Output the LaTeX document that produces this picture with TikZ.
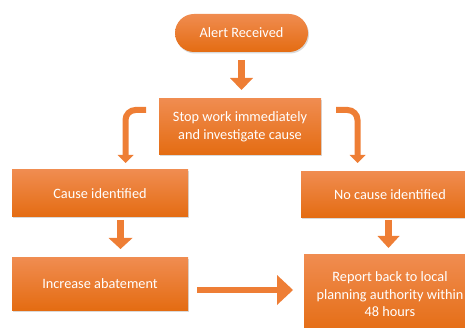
\documentclass[tikz,border=0pt]{standalone}
\usepackage{fontspec}
\setmainfont{Carlito}
\usetikzlibrary{shadows}
\definecolor{otop}{HTML}{F08C50}
\definecolor{obot}{HTML}{E46C12}
\definecolor{oarr}{HTML}{EE7E35}
\tikzset{
  box/.style={draw=none, top color=otop, bottom color=obot, text=white, align=center,
    font=\fontsize{14.3}{18}\selectfont, inner sep=0pt,
    drop shadow={shadow xshift=1pt, shadow yshift=-1.5pt, opacity=0.25, fill=black!60}},
  pill/.style={box, rounded corners=19pt},
  shaft/.style={draw=oarr, line width=7pt},
  bshaft/.style={draw=oarr, line width=6pt, rounded corners=10pt},
  head/.style={fill=oarr, draw=none}
}
\begin{document}
\begin{tikzpicture}[x=1pt,y=-1pt]
\useasboundingbox (0,0) rectangle (465,328);
\clip (0,0) rectangle (465,328);
% nodes
\node[pill, minimum width=133pt, minimum height=38pt] (alert) at (241.5,33) {Alert Received};
\node[box, minimum width=162pt, minimum height=56pt] (stop) at (240,127) {Stop work immediately\\and investigate cause};
\node[box, minimum width=176pt, minimum height=47pt] (cause) at (100,193.5) {Cause identified};
\node[box, minimum width=178pt, minimum height=46pt] (nocause) at (390,194.5) {No cause identified};
\node[box, minimum width=176pt, minimum height=52pt] (incr) at (100,284) {Increase abatement};
\node[box, minimum width=178pt, minimum height=80pt] (report) at (393,295) {};
\node[text=white, align=center, font=\fontsize{14.3}{17.5}\selectfont, inner sep=0pt] (reporttxt) at (390,294.5) {Report back to local\\planning authority within\\48 hours};
% arrow end points
\coordinate (a1s) at (241.5,60);  \coordinate (a1e) at (241.5,79);
\coordinate (a2s) at (120.5,220); \coordinate (a2e) at (120.5,239);
\coordinate (a3s) at (388.5,220); \coordinate (a3e) at (388.5,237);
\coordinate (a4s) at (197,290);   \coordinate (a4e) at (278,290);
\coordinate (b1s) at (146,110);   \coordinate (b1c) at (125.5,110); \coordinate (b1e) at (125.5,156);
\coordinate (b2s) at (336,110);   \coordinate (b2c) at (357.5,110); \coordinate (b2e) at (357.5,156);
% straight arrows
\draw[shaft] (a1s) -- (a1e);
\path[head] (230,78) -- (253,78) -- (241.5,90) -- cycle;
\draw[shaft] (a2s) -- (a2e);
\path[head] (108.5,238) -- (132.5,238) -- (120.5,249) -- cycle;
\draw[shaft] (a3s) -- (a3e);
\path[head] (377.5,236) -- (399.5,236) -- (388.5,248) -- cycle;
\draw[draw=oarr, line width=6.5pt] (a4s) -- (a4e);
\path[head] (277,275) -- (293,290) -- (277,305) -- cycle;
% bent arrows
\draw[bshaft] (b1s) -- (b1c) -- (b1e);
\path[head] (117.5,155) -- (133.5,155) -- (125.5,163) -- cycle;
\draw[bshaft] (b2s) -- (b2c) -- (b2e);
\path[head] (349.5,155) -- (365.5,155) -- (357.5,163) -- cycle;
\end{tikzpicture}
\end{document}
